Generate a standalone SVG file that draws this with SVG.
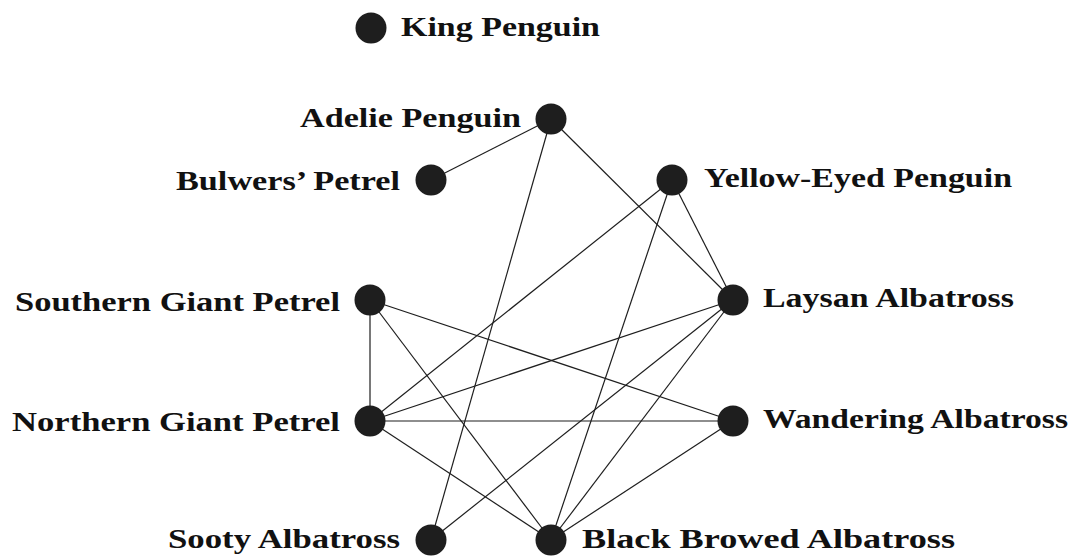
<svg xmlns="http://www.w3.org/2000/svg" width="1074" height="559" viewBox="0 0 1074 559">
  <style>
    .node circle { fill: #1e1e1e; }
    .edges line { stroke: #1e1e1e; stroke-width: 1.2; }
    text { font-family: "Liberation Serif", "DejaVu Serif", serif; font-weight: bold; font-size: 28px; fill: #111; }
  </style>
  <rect width="1074" height="559" fill="#fff"/>
  <g id="connectors" class="edges">
    <line x1="551" y1="119" x2="431" y2="180"/>
    <line x1="551" y1="119" x2="431" y2="540"/>
    <line x1="551" y1="119" x2="733" y2="300"/>
    <line x1="672" y1="180" x2="370" y2="421"/>
    <line x1="672" y1="180" x2="551" y2="540"/>
    <line x1="672" y1="180" x2="733" y2="300"/>
    <line x1="370" y1="300" x2="370" y2="421"/>
    <line x1="370" y1="300" x2="551" y2="540"/>
    <line x1="370" y1="300" x2="733" y2="421"/>
    <line x1="370" y1="421" x2="733" y2="300"/>
    <line x1="370" y1="421" x2="733" y2="421"/>
    <line x1="370" y1="421" x2="551" y2="540"/>
    <line x1="733" y1="300" x2="431" y2="540"/>
    <line x1="733" y1="300" x2="551" y2="540"/>
    <line x1="733" y1="421" x2="551" y2="540"/>
  </g>
  <g id="king-penguin" class="node"><circle cx="371" cy="28" r="15.5"/><text x="401" y="36" textLength="199" lengthAdjust="spacingAndGlyphs">King Penguin</text></g>
  <g id="adelie-penguin" class="node"><circle cx="551" cy="119" r="15.5"/><text x="300" y="127" textLength="221" lengthAdjust="spacingAndGlyphs">Adelie Penguin</text></g>
  <g id="bulwers-petrel" class="node"><circle cx="431" cy="180" r="15.5"/><text x="176" y="190" textLength="224" lengthAdjust="spacingAndGlyphs">Bulwers’ Petrel</text></g>
  <g id="yellow-eyed-penguin" class="node"><circle cx="672" cy="180" r="15.5"/><text x="704" y="187" textLength="308" lengthAdjust="spacingAndGlyphs">Yellow-Eyed Penguin</text></g>
  <g id="southern-giant-petrel" class="node"><circle cx="370" cy="300" r="15.5"/><text x="15" y="311" textLength="325" lengthAdjust="spacingAndGlyphs">Southern Giant Petrel</text></g>
  <g id="laysan-albatross" class="node"><circle cx="733" cy="300" r="15.5"/><text x="763" y="307" textLength="251" lengthAdjust="spacingAndGlyphs">Laysan Albatross</text></g>
  <g id="northern-giant-petrel" class="node"><circle cx="370" cy="421" r="15.5"/><text x="12" y="431" textLength="328" lengthAdjust="spacingAndGlyphs">Northern Giant Petrel</text></g>
  <g id="wandering-albatross" class="node"><circle cx="733" cy="421" r="15.5"/><text x="763" y="428" textLength="305" lengthAdjust="spacingAndGlyphs">Wandering Albatross</text></g>
  <g id="sooty-albatross" class="node"><circle cx="431" cy="540" r="15.5"/><text x="168" y="548" textLength="232" lengthAdjust="spacingAndGlyphs">Sooty Albatross</text></g>
  <g id="black-browed-albatross" class="node"><circle cx="551" cy="540" r="15.5"/><text x="582" y="548" textLength="373" lengthAdjust="spacingAndGlyphs">Black Browed Albatross</text></g>
</svg>
